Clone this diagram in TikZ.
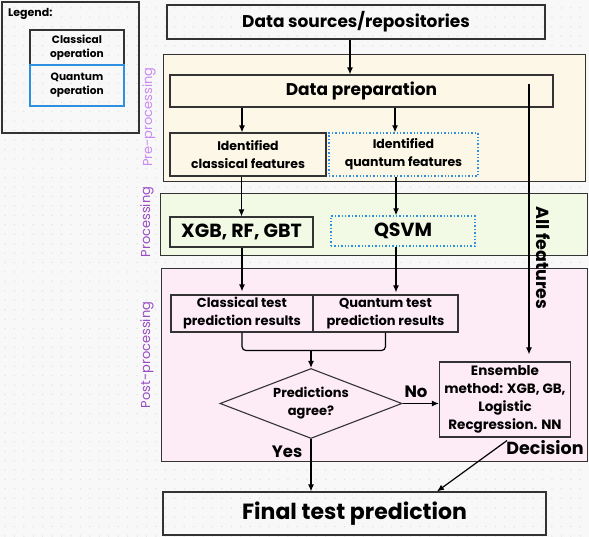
\documentclass[tikz,border=0pt]{standalone}
\usepackage{fontspec}
\setmainfont{Poppins}
\usetikzlibrary{shapes.geometric,arrows.meta}
\definecolor{qblue}{HTML}{2F8FE0}
\definecolor{edge}{HTML}{333333}
\definecolor{prefill}{HTML}{FCF7E6}
\definecolor{procfill}{HTML}{F2FAE6}
\definecolor{postfill}{HTML}{FDEBF6}
\definecolor{prelbl}{HTML}{C98AF2}
\definecolor{proclbl}{HTML}{9A4DC2}
\definecolor{bgpaper}{HTML}{F8F8F8}
\definecolor{griddot}{HTML}{E0E0E0}
\begin{document}
\begin{tikzpicture}[x=1pt,y=-1pt,
  panel/.style={draw=edge, line width=1pt, inner sep=0pt},
  box/.style={draw=edge, line width=1.1pt, inner sep=0pt, align=center},
  qbox/.style={draw=qblue, line width=1.4pt, dotted, inner sep=0pt, align=center},
  arr/.style={line width=1.2pt, -{Latex[length=7pt,width=6pt]}},
  big/.style={font=\fontsize{17}{21}\selectfont\bfseries},
  mid/.style={font=\fontsize{12.5}{18}\selectfont\bfseries},
  lbl/.style={font=\fontsize{16.5}{18}\selectfont\bfseries, inner sep=0pt},
  side/.style={font=\fontsize{13}{14}\selectfont, rotate=90, inner sep=0pt}]
\useasboundingbox[fill=bgpaper] (0,0) rectangle (589,537);
% dotted paper
\foreach \i in {0,...,62}
  \foreach \j in {0,...,57}
    \fill[griddot] (5+9.43*\i,7.9+9.43*\j) circle (0.75);
% legend
\node[box, minimum width=137, minimum height=131] (legend) at (70.5,67.5){};
\node[font=\fontsize{11}{12}\selectfont\bfseries, anchor=west, inner sep=0pt] (legt) at (8,14){Legend:};
\node[box, minimum width=94, minimum height=35, font=\fontsize{10.6}{14}\selectfont\bfseries] (legc) at (77,47.5){Classical\\operation};
\node[box, draw=qblue, minimum width=94, minimum height=41, font=\fontsize{10.6}{14}\selectfont\bfseries] (legq) at (77,85.5){Quantum\\operation};
% stage panels
\node[panel, fill=prefill, minimum width=422, minimum height=127] (pre) at (374,118.5){};
\node[panel, fill=procfill, minimum width=427, minimum height=62] (proc) at (373.5,225){};
\node[panel, fill=postfill, minimum width=426, minimum height=192] (post) at (374,365){};
\node[side, text=prelbl] (prel) at (149,117){Pre-processing};
\node[side, text=proclbl] (procl) at (147,222){Processing};
\node[side, text=proclbl] (postl) at (147,355){Post-processing};
% boxes
\node[box, big, minimum width=378, minimum height=34] (src) at (356,22){Data sources/repositories};
\node[box, big, minimum width=383, minimum height=32] (prep) at (361.5,91){Data preparation};
\node[box, mid, minimum width=156, minimum height=43] (clf) at (248,154.5){Identified\\classical features};
\node[qbox, mid, minimum width=149, minimum height=43] (qf) at (403.5,154.5){Identified\\quantum features};
\node[box, big, font=\fontsize{19}{21}\selectfont\bfseries, minimum width=143, minimum height=30] (xgb) at (241.5,232){XGB, RF, GBT};
\node[qbox, big, font=\fontsize{19}{21}\selectfont\bfseries, minimum width=144, minimum height=30] (qsvm) at (403,231){QSVM};
\node[box, mid, font=\fontsize{13}{18}\selectfont\bfseries, minimum width=142, minimum height=37] (ctr) at (242,313.5){Classical test\\prediction results};
\node[box, mid, font=\fontsize{13}{18}\selectfont\bfseries, minimum width=145, minimum height=37] (qtr) at (385.5,313.5){Quantum test\\prediction results};
\node[draw=edge, line width=1.1pt, shape=diamond, aspect=2.6, minimum width=182, minimum height=70, inner sep=0pt, font=\fontsize{13}{18}\selectfont\bfseries, align=center] (dec) at (311,403.5){Predictions\\agree?};
\node[box, font=\fontsize{13.5}{18}\selectfont\bfseries, minimum width=131, minimum height=75] (ens) at (505,399.5){Ensemble\\method: XGB, GB,\\Logistic\\Recgression. NN};
\node[box, font=\fontsize{22}{24}\selectfont\bfseries, minimum width=383, minimum height=43] (fin) at (354.5,513.5){Final test prediction};
% connectors
\draw[arr] ([xshift=-6pt]src.south) -- ([xshift=-6pt]src.south |- prep.north);
\draw[arr] ([xshift=-6pt]clf.north |- prep.south) -- ([xshift=-6pt]clf.north);
\draw[arr] ([xshift=-8.5pt]qf.north |- prep.south) -- ([xshift=-8.5pt]qf.north);
\draw[arr] (xgb.north |- clf.south) -- (xgb.north);
\draw[arr] ([xshift=-7pt]qsvm.north |- qf.south) -- ([xshift=-7pt]qsvm.north);
\draw[arr] (ctr.north |- xgb.south) -- ([yshift=3pt]ctr.north);
\draw[arr] ([xshift=-7pt]qsvm.south) -- ([xshift=-7pt,yshift=2pt]qsvm.south |- qtr.north);
\draw[line width=1.2pt, rounded corners=4pt] (ctr.south) -- ++(0,18) coordinate (joinl) -| (qtr.south);
\draw[arr] (dec.north |- joinl) -- (dec.north);
\coordinate (allf) at (529,84);
\draw[arr] (allf) -- ([yshift=7pt]allf |- ens.north);
\node[lbl, font=\fontsize{17.5}{18}\selectfont\bfseries, rotate=-90] (allfl) at (543.5,258){All features};
\draw[arr] (dec.east) -- (ens.west |- dec.east);
\node[lbl] (nol) at (416,392){No};
\draw[arr] (dec.south) -- (dec.south |- fin.north);
\node[lbl] (yesl) at (287,452){Yes};
\draw[arr] ([xshift=2pt,yshift=-3pt]ens.south) -- ([xshift=82.5pt]fin.north);
\node[lbl, font=\fontsize{17.5}{18}\selectfont\bfseries] (decl) at (545,448){Decision};
\end{tikzpicture}
\end{document}
